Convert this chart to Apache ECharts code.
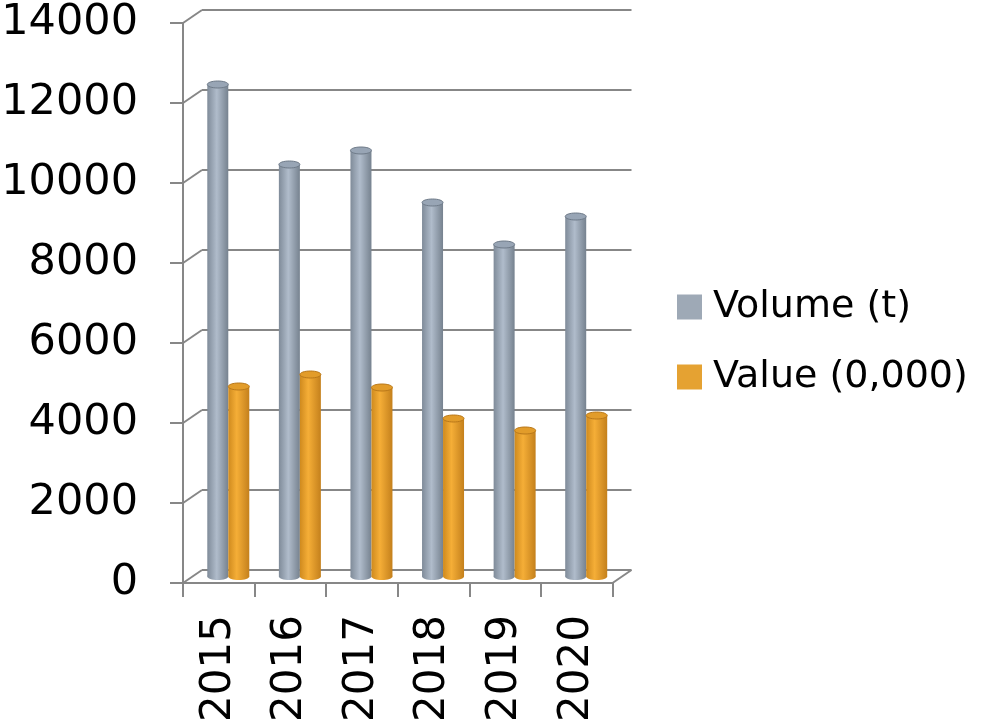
<!DOCTYPE html>
<html>
<head>
<meta charset="utf-8">
<title>Volume and value by year</title>
<script src="https://cdn.jsdelivr.net/npm/echarts@6/dist/echarts.min.js"></script>
<style>
  html, body { margin: 0; padding: 0; background: #ffffff; }
  #chart { width: 989px; height: 725px; }
</style>
</head>
<body>
<div id="chart"></div>
<script>
// Data
const years = ['2015', '2016', '2017', '2018', '2019', '2020'];
const volumeT = [12300, 10300, 10650, 9350, 8300, 9000];
const value0000 = [4750, 5050, 4725, 3950, 3650, 4025];
const seriesNames = ['Volume (t)', 'Value (0,000)'];
const yMin = 0, yMax = 14000, yStep = 2000;
const yTickValues = [0, 2000, 4000, 6000, 8000, 10000, 12000, 14000];

// Pseudo-3D layout: a front plane (axes), a back wall (gridlines) and
// the mid-depth plane where the cylinders stand.
const FONT = 'DejaVu Sans';
const GRID_W = 429.5, GRID_H = 560;
const FRONT = { left: 183, top: 23 };
const DX = 19, DY = 13;             // depth offset front -> back wall
const BAR_W = 21;
const LINE = '#878787';

const chart = echarts.init(document.getElementById('chart'), null, { renderer: 'canvas' });

function cylinder(side, stops, topFill, edge) {
  return function (params, api) {
    const idx = api.value(0);
    const v = api.value(1);
    const base = api.coord([idx, 0]);
    const top = api.coord([idx, v]);
    const cx = base[0] + side * BAR_W / 2;
    const x = cx - BAR_W / 2;
    const ry = 3.5;
    const grad = new echarts.graphic.LinearGradient(0, 0, 1, 0, stops);
    return {
      type: 'group',
      children: [
        { type: 'ellipse', shape: { cx: cx, cy: base[1], rx: BAR_W / 2, ry: ry }, style: { fill: grad } },
        { type: 'rect', shape: { x: x, y: top[1], width: BAR_W, height: base[1] - top[1] }, style: { fill: grad } },
        { type: 'ellipse', shape: { cx: cx, cy: top[1], rx: BAR_W / 2, ry: ry }, style: { fill: topFill, stroke: edge, lineWidth: 1 } }
      ]
    };
  };
}

// Diagonal links between the front axis and the back wall
function depthLinks(params, api) {
  const v = api.value(1);
  const p = api.coord([0, v]);
  const band = api.size([1, 0])[0];
  const x0 = p[0] - band / 2;
  const style = { stroke: LINE, lineWidth: 2 };
  const children = [
    { type: 'line', shape: { x1: x0, y1: p[1], x2: x0 + DX, y2: p[1] - DY }, style: style }
  ];
  if (v === yMin) {
    const x1 = api.coord([years.length - 1, v])[0] + band / 2;
    children.push({ type: 'line', shape: { x1: x1, y1: p[1], x2: x1 + DX, y2: p[1] - DY }, style: style });
  }
  return { type: 'group', children: children };
}

const grids = [
  { left: FRONT.left, top: FRONT.top, width: GRID_W, height: GRID_H },                         // front
  { left: FRONT.left + DX, top: FRONT.top - DY, width: GRID_W, height: GRID_H },               // back wall
  { left: FRONT.left + DX / 2, top: FRONT.top - DY / 2, width: GRID_W, height: GRID_H }        // bars
].map(g => Object.assign(g, { containLabel: false, outerBoundsMode: 'none' }));

const option = {
  animation: false,
  backgroundColor: '#ffffff',
  grid: grids,
  legend: {
    orient: 'vertical',
    left: 677,
    top: 288,
    padding: 0,
    itemWidth: 25,
    itemHeight: 25,
    itemGap: 32,
    icon: 'rect',
    data: seriesNames,
    textStyle: { fontFamily: FONT, fontSize: 38, color: '#000', padding: [0, 0, 0, 6] }
  },
  xAxis: [
    {
      gridIndex: 0, type: 'category', data: years, boundaryGap: true,
      axisLine: { show: true, lineStyle: { color: LINE, width: 2 } },
      axisTick: { show: true, length: 14, lineStyle: { color: LINE, width: 2 } },
      axisLabel: { rotate: 90, margin: 32, fontFamily: FONT, fontSize: 42, color: '#000' },
      splitLine: { show: false }
    },
    { gridIndex: 1, type: 'category', data: years, show: false },
    { gridIndex: 2, type: 'category', data: years, show: false }
  ],
  yAxis: [
    {
      gridIndex: 0, type: 'value', min: yMin, max: yMax, interval: yStep,
      axisLine: { show: true, lineStyle: { color: LINE, width: 2 } },
      axisTick: { show: true, length: 13, lineStyle: { color: LINE, width: 2 } },
      axisLabel: {
        margin: 45, fontFamily: FONT, fontSize: 43, color: '#000',
        padding: [7, 0, 0, 0], formatter: v => String(v)
      },
      splitLine: { show: false }
    },
    {
      gridIndex: 1, type: 'value', min: yMin, max: yMax, interval: yStep,
      axisLine: { show: false }, axisTick: { show: false }, axisLabel: { show: false },
      splitLine: { show: true, lineStyle: { color: LINE, width: 2 } }
    },
    {
      gridIndex: 2, type: 'value', min: yMin, max: yMax, interval: yStep, show: false,
      splitLine: { show: false }
    }
  ],
  series: [
    {
      name: 'links', type: 'custom', xAxisIndex: 0, yAxisIndex: 0, clip: false, silent: true,
      data: yTickValues.map(v => [0, v]), renderItem: depthLinks, z: 1
    },
    {
      name: seriesNames[0], type: 'custom', xAxisIndex: 2, yAxisIndex: 2, clip: false, z: 3,
      itemStyle: { color: '#9ea9b6' },
      data: volumeT.map((v, i) => [i, v]),
      encode: { x: 0, y: 1 },
      renderItem: cylinder(-1, [
        { offset: 0, color: '#7f8b99' },
        { offset: 0.45, color: '#b0bccb' },
        { offset: 1, color: '#76828f' }
      ], '#98a5b5', '#6e7a88')
    },
    {
      name: seriesNames[1], type: 'custom', xAxisIndex: 2, yAxisIndex: 2, clip: false, z: 3,
      itemStyle: { color: '#e5a232' },
      data: value0000.map((v, i) => [i, v]),
      encode: { x: 0, y: 1 },
      renderItem: cylinder(1, [
        { offset: 0, color: '#cf8a1e' },
        { offset: 0.4, color: '#f5ae37' },
        { offset: 1, color: '#c4801c' }
      ], '#e29c2a', '#b9781a')
    }
  ]
};

chart.setOption(option);
</script>
</body>
</html>
